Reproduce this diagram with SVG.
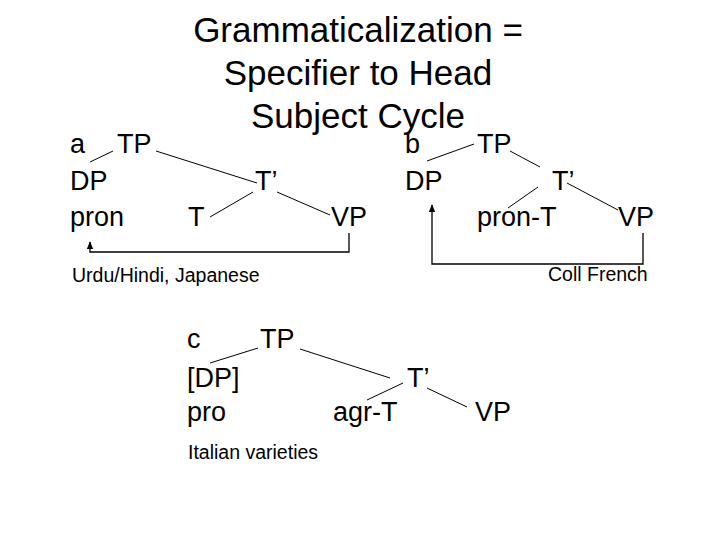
<svg xmlns="http://www.w3.org/2000/svg" width="720" height="540" viewBox="0 0 720 540">
<style>
text{font-family:"Liberation Sans",Arial,sans-serif;fill:#000}
.t{font-size:35px}
.n{font-size:27px}
.s{font-size:19.5px}
.e{stroke:#000;stroke-width:1;fill:none}
.a{stroke:#000;stroke-width:1.3;fill:none}
</style>
<defs>
<marker id="ah" viewBox="0 0 10 10" refX="9" refY="5" markerWidth="6" markerHeight="6" orient="auto"><path d="M0,1 L10,5 L0,9 z" fill="#000"/></marker>
</defs>
<rect width="720" height="540" fill="#fff"/>
<g id="title" text-anchor="middle">
<text class="t" x="358" y="42">Grammaticalization =</text>
<text class="t" x="358" y="85">Specifier to Head</text>
<text class="t" x="358" y="128">Subject Cycle</text>
</g>
<g id="treeA">
<g id="a-label"><text class="n" x="70" y="153">a</text></g>
<g id="a-TP"><text class="n" x="117" y="153">TP</text></g>
<g id="a-DP"><text class="n" x="70" y="190">DP</text></g>
<g id="a-Tbar"><text class="n" x="255" y="190">T’</text></g>
<g id="a-pron"><text class="n" x="70" y="226">pron</text></g>
<g id="a-T"><text class="n" x="188" y="226">T</text></g>
<g id="a-VP"><text class="n" x="331" y="226">VP</text></g>
<g id="a-note"><text class="s" x="72" y="282">Urdu/Hindi, Japanese</text></g>
</g>
<g id="treeB">
<g id="b-label"><text class="n" x="405" y="153">b</text></g>
<g id="b-TP"><text class="n" x="477" y="153">TP</text></g>
<g id="b-DP"><text class="n" x="405" y="190">DP</text></g>
<g id="b-Tbar"><text class="n" x="552" y="190">T’</text></g>
<g id="b-pronT"><text class="n" x="477" y="226">pron-T</text></g>
<g id="b-VP"><text class="n" x="618" y="226">VP</text></g>
<g id="b-note"><text class="s" x="548" y="281">Coll French</text></g>
</g>
<g id="treeC">
<g id="c-label"><text class="n" x="187" y="348">c</text></g>
<g id="c-TP"><text class="n" x="260" y="348">TP</text></g>
<g id="c-DP"><text class="n" x="187" y="387">[DP]</text></g>
<g id="c-Tbar"><text class="n" x="407" y="387">T’</text></g>
<g id="c-pro"><text class="n" x="187" y="421">pro</text></g>
<g id="c-agrT"><text class="n" x="333" y="421">agr-T</text></g>
<g id="c-VP"><text class="n" x="475" y="421">VP</text></g>
<g id="c-note"><text class="s" x="188" y="459">Italian varieties</text></g>
</g>
<g id="connectors">
<line class="e" x1="90" y1="162" x2="113" y2="151"/>
<line class="e" x1="156" y1="151" x2="257" y2="183"/>
<line class="e" x1="253" y1="192" x2="210" y2="217"/>
<line class="e" x1="277" y1="192" x2="330" y2="215"/>
<path class="a" d="M349,233 V252 H90 V242" marker-end="url(#ah)"/>
<line class="e" x1="427" y1="161" x2="474" y2="144"/>
<line class="e" x1="510" y1="151" x2="540" y2="167"/>
<line class="e" x1="538" y1="187" x2="508" y2="208"/>
<line class="e" x1="567" y1="183" x2="618" y2="210"/>
<path class="a" d="M643,233 V264 H432 V205" marker-end="url(#ah)"/>
<line class="e" x1="210" y1="363" x2="258" y2="348"/>
<line class="e" x1="300" y1="349" x2="390" y2="378"/>
<line class="e" x1="403" y1="383" x2="367" y2="400"/>
<line class="e" x1="427" y1="388" x2="467" y2="407"/>
</g>
</svg>
